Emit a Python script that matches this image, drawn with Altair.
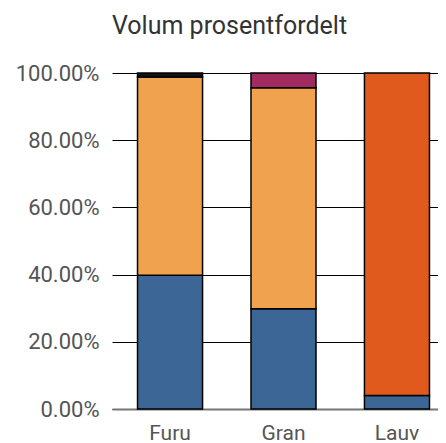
import altair as alt
import pandas as pd

categories = ["Furu", "Furu", "Furu", "Gran", "Gran", "Gran", "Lauv", "Lauv"]
series = ["Sagtømmer", "Massevirke", "Annet",
          "Sagtømmer", "Massevirke", "Energivirke",
          "Sagtømmer", "Lauvmassevirke"]
values = [0.398, 0.590, 0.012,
          0.298, 0.658, 0.044,
          0.040, 0.960]
order = [0, 1, 2, 0, 1, 2, 0, 1]

color_domain = ["Sagtømmer", "Massevirke", "Annet", "Energivirke", "Lauvmassevirke"]
color_range = ["#3b6696", "#f0a24f", "#111111", "#a12a5e", "#e05a1e"]

df = pd.DataFrame({"art": categories, "serie": series, "andel": values, "rekke": order})

FONT = "Roboto"

chart = alt.Chart(df).mark_bar(stroke="#000000", strokeWidth=1.5).encode(
    x=alt.X("art:N", title=None,
            scale=alt.Scale(range=[0, 343], paddingInner=0.427, paddingOuter=0.225),
            axis=alt.Axis(labelAngle=0, ticks=False, labelPadding=13, labelFontSize=21,
                          labelColor="#555555", labelFont=FONT, domainColor="#777777",
                          domainWidth=2, grid=False)),
    y=alt.Y("andel:Q", title=None, stack="zero",
            scale=alt.Scale(domain=[0, 1], nice=False),
            axis=alt.Axis(format=".2%", values=[0, 0.2, 0.4, 0.6, 0.8, 1.0],
                          labelFontSize=22, labelColor="#555555", labelFont=FONT,
                          ticks=False, labelPadding=13, domain=False,
                          gridColor="#000000", gridWidth=1, gridOpacity=1)),
    color=alt.Color("serie:N", scale=alt.Scale(domain=color_domain, range=color_range),
                    legend=None),
    order=alt.Order("rekke:Q"),
).properties(
    width=326,
    height=336,
    title=alt.TitleParams("Volum prosentfordelt", anchor="start", frame="group", fontSize=25,
                          font=FONT, fontWeight="normal", color="#333333", offset=23),
    autosize=alt.AutoSizeParams(type="none"),
    padding={"left": 104, "top": 65, "right": 0, "bottom": 34},
).configure_view(stroke=None)

chart.save("out.html", embed_options={"renderer": "svg", "actions": False})
